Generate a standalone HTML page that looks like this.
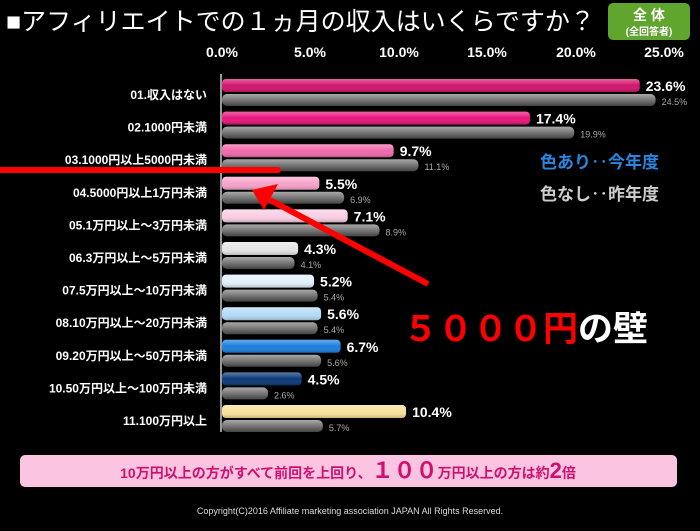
<!DOCTYPE html>
<html><head><meta charset="utf-8"><style>
body{margin:0;width:700px;height:526px;background:#000;overflow:hidden;font-family:"Liberation Sans","Noto Sans CJK JP",sans-serif;}
svg text{font-family:"Liberation Sans","Noto Sans CJK JP",sans-serif;}
</style></head><body>
<svg width="700" height="526" xmlns="http://www.w3.org/2000/svg">
<defs>
<linearGradient id="g" x1="0" y1="0" x2="0" y2="1"><stop offset="0" stop-color="#aaa"/><stop offset="0.5" stop-color="#777"/><stop offset="1" stop-color="#444"/></linearGradient>
<linearGradient id="sh" x1="0" y1="0" x2="0" y2="1"><stop offset="0" stop-color="#fff" stop-opacity="0.35"/><stop offset="0.5" stop-color="#fff" stop-opacity="0"/><stop offset="1" stop-color="#000" stop-opacity="0.2"/></linearGradient>
</defs>
<text x="6" y="30" fill="#fff" font-size="25">■アフィリエイトでの１ヵ月の収入はいくらですか？</text>
<rect x="608" y="3" width="82" height="37" rx="5" fill="#5fa52e"/>
<text x="649" y="20" fill="#fff" font-size="14" font-weight="bold" text-anchor="middle">全 体</text>
<text x="649" y="35" fill="#fff" font-size="10" font-weight="bold" text-anchor="middle">(全回答者)</text>
<g fill="#fff" font-size="14" font-weight="bold" text-anchor="middle">
<text x="222" y="57">0.0%</text><text x="310" y="57">5.0%</text><text x="399" y="57">10.0%</text><text x="487" y="57">15.0%</text><text x="576" y="57">20.0%</text><text x="664" y="57">25.0%</text>
</g>
<line x1="221" y1="74" x2="221" y2="432" stroke="#999" stroke-width="2"/>
<g id="bars"></g>
<text x="540" y="168" fill="#2a86e0" font-size="17" font-weight="bold">色あり‥今年度</text>
<text x="540" y="200" fill="#ccc" font-size="17" font-weight="bold">色なし‥昨年度</text>
<line x1="0" y1="170" x2="278" y2="170" stroke="#f00" stroke-width="6" stroke-linecap="round"/>
<line x1="428" y1="284" x2="270" y2="200" stroke="#f00" stroke-width="6"/>
<polygon points="252,190 278,184 264,210" fill="#f00"/>
<text x="403" y="341" font-size="35" font-weight="bold"><tspan fill="#f00">５０００円</tspan><tspan fill="#fff">の壁</tspan></text>
<rect x="20" y="455" width="657" height="32" rx="5" fill="#fbc4e0"/>
<text x="348" y="478" text-anchor="middle" fill="#d01070" font-size="14" font-weight="bold">10万円以上の方がすべて前回を上回り、<tspan font-size="22">１００</tspan>万円以上の方は約<tspan font-size="22">2</tspan>倍</text>
<text x="350" y="514" text-anchor="middle" fill="#ddd" font-size="9" font-family="Liberation Serif">Copyright(C)2016  Affiliate marketing association JAPAN  All Rights Reserved.</text>
</svg>
<script>
var d=[["01.収入はない",23.6,24.5,"#d2156b"],["02.1000円未満",17.4,19.9,"#e8157c"],["03.1000円以上5000円未満",9.7,11.1,"#f06aac"],["04.5000円以上1万円未満",5.5,6.9,"#f7a3cb"],["05.1万円以上～3万円未満",7.1,8.9,"#fbcde3"],["06.3万円以上～5万円未満",4.3,4.1,"#e6e6e6"],["07.5万円以上～10万円未満",5.2,5.4,"#e3f1fb"],["08.10万円以上～20万円未満",5.6,5.4,"#b5dbf7"],["09.20万円以上～50万円未満",6.7,5.6,"#1b7fe0"],["10.50万円以上～100万円未満",4.5,2.6,"#0b3a78"],["11.100万円以上",10.4,5.7,"#f8e19a"]];
var s="",k=17.7,x0=222;
d.forEach(function(r,i){var t=79+32.6*i;
s+='<text x="207" y="'+(t+20)+'" fill="#fff" font-size="12" font-weight="bold" text-anchor="end">'+r[0]+'</text>';
s+='<rect x="'+x0+'" y="'+t+'" width="'+(r[1]*k)+'" height="13" rx="4" fill="'+r[3]+'"/><rect x="'+x0+'" y="'+t+'" width="'+(r[1]*k)+'" height="13" rx="4" fill="url(#sh)"/>';
s+='<rect x="'+x0+'" y="'+(t+15)+'" width="'+(r[2]*k)+'" height="12" rx="5" fill="url(#g)"/>';
s+='<text x="'+(x0+r[1]*k+6)+'" y="'+(t+12)+'" fill="#fff" font-size="14" font-weight="bold">'+r[1].toFixed(1)+'%</text>';
s+='<text x="'+(x0+r[2]*k+6)+'" y="'+(t+26)+'" fill="#aaa" font-size="9">'+r[2].toFixed(1)+'%</text>';});
document.getElementById("bars").innerHTML=s;
</script>
</body></html>
